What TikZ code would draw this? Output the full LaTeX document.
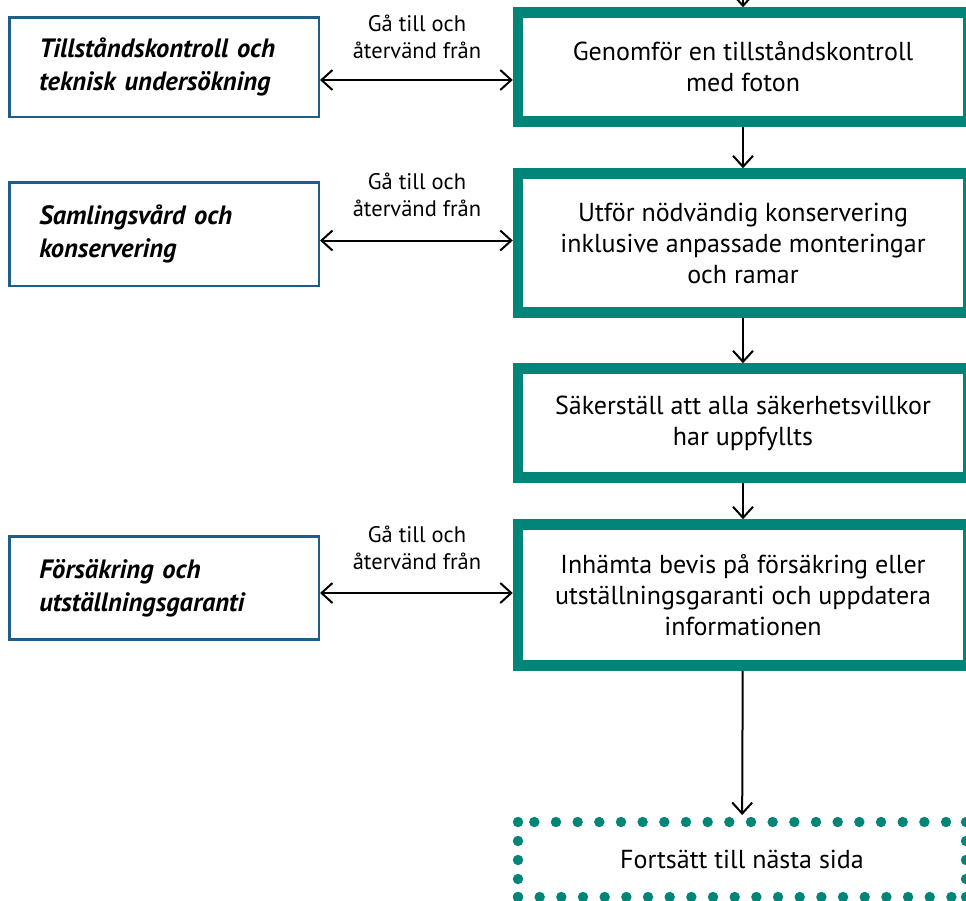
\documentclass[tikz,border=0pt]{standalone}
\usepackage{fontspec}
\setmainfont{PT Sans}
\usetikzlibrary{arrows.meta}
\definecolor{stepteal}{RGB}{0,133,120}
\definecolor{sideblue}{RGB}{30,93,134}
\begin{document}
\begin{tikzpicture}[x=1pt,y=-1pt,
  stepbox/.style={draw=stepteal, line width=10.5pt, fill=white, minimum width=450pt,
    align=center, inner sep=0pt, font=\fontsize{26}{31}\selectfont},
  sidebox/.style={draw=sideblue, line width=2.5pt, fill=white, minimum width=309.5pt,
    text width=249.5pt, inner xsep=30pt, inner ysep=0pt, align=left,
    font=\fontsize{26.5}{32.5}\selectfont\bfseries\itshape},
  note/.style={align=center, inner sep=0pt, font=\fontsize{22.5}{27}\selectfont},
  tip/.tip={Straight Barb[length=11pt,width=20pt]},
  arr/.style={line width=2pt, -tip},
  twoway/.style={line width=2pt, tip-tip},
  dot/.style={fill=stepteal, draw=none},
]
\useasboundingbox (0,0) rectangle (966,900);
\clip (0,0) rectangle (966,900);

% main column of steps
\node[stepbox, minimum height=109pt] (b1) at (743,67)
  {Genomför en tillståndskontroll\\med foton};
\node[stepbox, minimum height=139pt] (b2) at (743,243)
  {Utför nödvändig konservering\\inklusive anpassade monteringar\\och ramar};
\node[stepbox, minimum height=109pt] (b3) at (743,423)
  {Säkerställ att alla säkerhetsvillkor\\har uppfyllts};
\node[stepbox, minimum height=141pt] (b4) at (743,595)
  {Inhämta bevis på försäkring eller\\utställningsgaranti och uppdatera\\informationen};

% side procedures
\node[sidebox, minimum height=99.5pt] (l1) at (164,67)
  {Tillståndskontroll och\\teknisk undersökning};
\node[sidebox, minimum height=103.5pt] (l2) at (164,234)
  {Samlingsvård och\\konservering};
\node[sidebox, minimum height=103pt] (l3) at (164,588)
  {Försäkring och\\utställningsgaranti};

% labels over the two-way connectors
\node[note] (n1) at (417,37) {Gå till och\\återvänd från};
\node[note] (n2) at (417,195) {Gå till och\\återvänd från};
\node[note] (n3) at (417,548) {Gå till och\\återvänd från};

% continuation box with a dotted border
\node[minimum width=448pt, minimum height=75pt, inner sep=0pt, outer ysep=7pt,
  font=\fontsize{26}{31}\selectfont] (next) at (742,859.5) {Fortsätt till nästa sida};
\foreach \x in {518,966}
  \foreach \y in {822,841,860,879,897}
    \fill[dot] (\x,\y) circle (5.2);
\foreach \k in {0,...,19}
  \fill[dot] (534.3+21.67*\k,822) circle (5.2);
\foreach \k in {0,...,20}
  \fill[dot] (518+21.67*\k,897) circle (5.2);

% connectors
\coordinate (from) at (743,-40);
\draw[arr] (from) -- (b1);
\draw[arr] (b1) -- (b2);
\draw[arr] (b2) -- (b3);
\draw[arr] (b3) -- (b4);
\draw[arr] (b4) -- (next);

\draw[twoway] ([yshift=-13pt]l1.east) -- ([yshift=-13pt]b1.west);
\draw[twoway] ([yshift=-6.5pt]l2.east) -- ([yshift=2.5pt]b2.west);
\draw[twoway] ([yshift=-5pt]l3.east) -- ([yshift=2pt]b4.west);
\end{tikzpicture}
\end{document}
